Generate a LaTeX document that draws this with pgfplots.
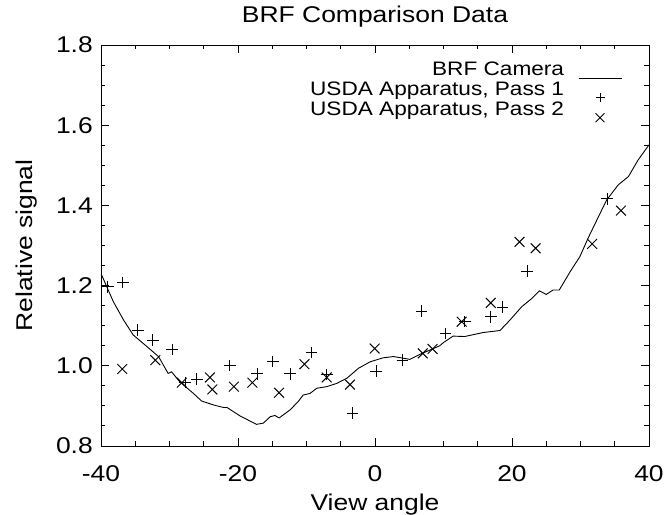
\documentclass[border=0pt]{standalone}
\usepackage{fontspec}
\setmainfont{Liberation Sans}[FakeStretch=1.16]
\usepackage{pgfplots}
\pgfplotsset{compat=1.18}
\usetikzlibrary{calc}
\pgfplotsset{
  legline/.style={legend image code/.code={\path (0bp,0bp) (43bp,0bp); \draw[##1] (0bp,-6.5bp) -- (43bp,-6.5bp);}},
  legmarkp/.style={legend image code/.code={\draw[##1, mark size=4.5bp] plot coordinates {(21.5bp,-6bp)};}},
  legmarkx/.style={legend image code/.code={\draw[##1, mark size=6.3bp] plot coordinates {(21.5bp,-6bp)};}},
}
\begin{document}
\begin{tikzpicture}
\begin{axis}[
  scale only axis, width=548bp, height=401bp,
  xmin=-40, xmax=40, ymin=0.8, ymax=1.8,
  xtick={-40,-20,0,20,40}, xticklabels={-40,-20,0,20,40},
  ytick={0.8,1.0,1.2,1.4,1.6,1.8}, yticklabels={0.8,1.0,1.2,1.4,1.6,1.8},
  minor x tick num=3, minor y tick num=3,
  tick align=inside, major tick length=8bp, minor tick length=4.5bp,
  axis line style={line width=0.9bp},
  every tick/.append style={line width=0.9bp, black},
  tick label style={font=\fontsize{22.8bp}{24bp}\selectfont, inner sep=0pt},
  xticklabel style={anchor=north, yshift=-19bp},
  yticklabel style={anchor=east, xshift=-8bp},
  label style={font=\fontsize{22.8bp}{24bp}\selectfont, inner sep=0pt},
  xlabel={View angle}, ylabel={Relative signal},
  xlabel style={at={(axis description cs:0.5,-0.1596)}, anchor=base},
  ylabel style={at={(axis description cs:-0.1241,0.5)}, anchor=base},
  title={BRF Comparison Data},
  title style={at={(axis description cs:0.5,1.0424)}, anchor=base, inner sep=0pt, font=\fontsize{22.8bp}{24bp}\selectfont},
  legend style={draw=none, fill=none, at={(0.9507,0.958)}, anchor=north east,
    inner sep=0pt, outer sep=0pt, font=\fontsize{19.5bp}{19.5bp}\selectfont,
    nodes={inner sep=0pt, text height=14bp, text depth=5.7bp},
    column sep=14bp, row sep=0pt},
  legend plot pos=right, legend cell align=right,
]
\coordinate (ll) at (rel axis cs:0,0);
\addplot[black, line width=0.9bp, legline] coordinates {
(-40,1.23) (-38.2,1.16) (-36.7,1.114) (-35.3,1.077) (-33.3,1.048) (-31.6,1.023)
(-30.2,0.981) (-29.7,0.985) (-28.5,0.960) (-26.5,0.931) (-25.3,0.912) (-23.5,0.902)
(-22.1,0.896) (-21.6,0.896) (-19.7,0.875) (-17.3,0.854) (-16.3,0.857) (-15.3,0.873)
(-14.6,0.876) (-14.0,0.870) (-12.4,0.890) (-11.2,0.911) (-10.5,0.927) (-9.5,0.931)
(-8.5,0.944) (-7.05,0.948) (-5.6,0.956) (-4.1,0.969) (-2.4,0.994) (-0.7,1.010)
(1.2,1.020) (2.7,1.023) (4.1,1.019) (5.1,1.016) (6.6,1.029) (8.0,1.039)
(9.45,1.050) (10.0,1.058) (11.4,1.074) (13.1,1.073) (15.8,1.083) (18.25,1.088)
(19.7,1.114) (21.4,1.147) (22.9,1.168) (24.0,1.187) (25.0,1.178) (26.0,1.189)
(26.9,1.189) (28.5,1.235) (29.9,1.272) (31.1,1.318) (32.4,1.364) (33.8,1.413)
(35.5,1.451) (37.0,1.472) (38.4,1.513) (40,1.551)
};
\addlegendentry{BRF Camera}
\addplot[black, only marks, mark=+, mark size=5.8bp, line width=1bp, legmarkp] coordinates {
(-39.0,1.197) (-36.8,1.208) (-34.6,1.089) (-32.45,1.064) (-29.6,1.041) (-27.7,0.958)
(-26.0,0.967) (-21.2,1.001) (-17.2,0.980) (-14.9,1.011) (-12.4,0.980) (-9.25,1.033)
(-7.05,0.978) (-3.3,0.882) (0.15,0.987) (4.0,1.014) (6.8,1.136) (10.3,1.081)
(13.1,1.110) (16.9,1.122) (18.6,1.146) (22.2,1.236) (33.9,1.416)
};
\addlegendentry{USDA Apparatus, Pass 1}
\addplot[black, only marks, mark=x, mark size=6.9bp, line width=1bp, legmarkx] coordinates {
(-36.9,0.992) (-32.07,1.014) (-28.2,0.958) (-24.1,0.971) (-23.75,0.941) (-20.6,0.948)
(-17.9,0.958) (-14.0,0.933) (-10.3,1.004) (-7.05,0.971) (-3.65,0.953) (-0.05,1.043)
(6.96,1.031) (8.4,1.042) (12.65,1.110) (16.9,1.157) (21.1,1.309) (23.45,1.293)
(31.7,1.304) (35.9,1.387)
};
\addlegendentry{USDA Apparatus, Pass 2}
\end{axis}
\pgfresetboundingbox
\path ($(ll)+(-101bp,-69bp)$) rectangle ($(ll)+(571bp,446bp)$);
\end{tikzpicture}
\end{document}
